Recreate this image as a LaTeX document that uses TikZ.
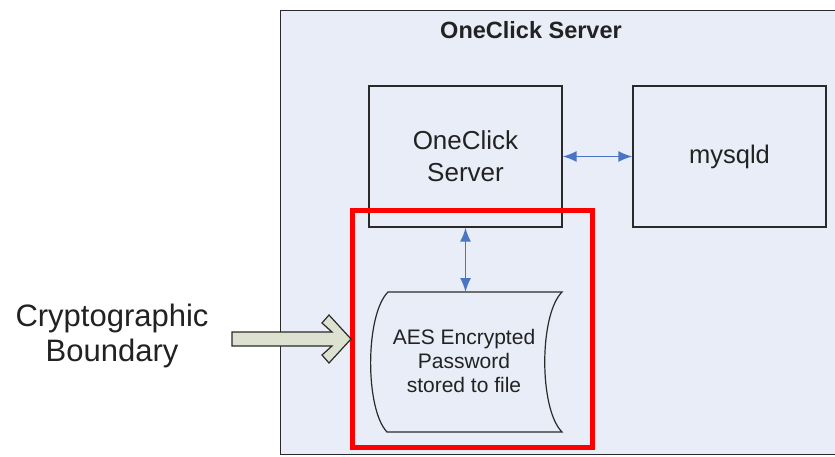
\documentclass[tikz,border=0pt]{standalone}
\usepackage{fontspec}
\setmainfont{Liberation Sans}
\usetikzlibrary{arrows.meta}
\definecolor{panel}{HTML}{E8EDF7}
\definecolor{linkblue}{HTML}{4A74C4}
\definecolor{chev}{HTML}{DDE1CF}
\definecolor{edge}{HTML}{2A2A2A}
\definecolor{txt}{HTML}{222222}
\begin{document}
\begin{tikzpicture}[x=1pt,y=-1pt,
  compbox/.style={draw=edge, line width=1.3pt, fill=panel, minimum width=193pt, minimum height=141pt, inner sep=0pt, text=txt},
  link/.style={draw=linkblue, line width=1.6pt, {Latex[length=14pt,width=11pt]}-{Latex[length=14pt,width=11pt]}},
  redframe/.style={draw=red, line width=5pt, minimum width=240pt, minimum height=237pt, inner sep=0pt},
  lbl/.style={text=txt, align=center, inner sep=0pt}]
\useasboundingbox (0,0) rectangle (835,456);
\fill[white] (0,0) rectangle (835,456);
\begin{scope}
\clip (0,0) rectangle (835,456);
\node[draw=edge, line width=1.2pt, fill=panel, anchor=north west, minimum width=570pt, minimum height=444pt, inner sep=0pt] (outer) at (280,10) {};
\end{scope}
\node[lbl, font=\bfseries\fontsize{23.5}{26}\selectfont] (title) at (531,30) {OneClick Server};
\node[compbox, align=center, font=\fontsize{26}{32}\selectfont] (os) at (465.5,156.5) {OneClick\\Server};
\node[compbox, font=\fontsize{25.5}{32}\selectfont] (my) at (729.5,156.5) {mysqld};
\draw[link] (os.east) -- (my.west);
% stored data shape
\coordinate (doctop) at (465.5,292);
\draw[edge, line width=1.2pt, fill=panel] (388,292) -- (562,292) .. controls (539,315) and (539,409) .. (562,432) -- (387,432) .. controls (365,409) and (365,315) .. (388,292) -- cycle;
\node[lbl, font=\fontsize{21}{24}\selectfont] (doc) at (464,361) {AES Encrypted\\Password\\stored to file};
\draw[link] (os.south) -- (doctop);
\node[redframe] (bound) at (472,328.5) {};
% boundary label and arrow
\node[lbl, font=\fontsize{31}{35}\selectfont] (crypto) at (112,336) {Cryptographic\\Boundary};
\coordinate (tip) at (351,339);
\draw[edge, line width=1.2pt, fill=chev] (232,332) -- (332,332) -- (322,323) -- (329,315) -- (tip) -- (329,363) -- (322,355) -- (332,346) -- (232,346) -- cycle;
\end{tikzpicture}
\end{document}
